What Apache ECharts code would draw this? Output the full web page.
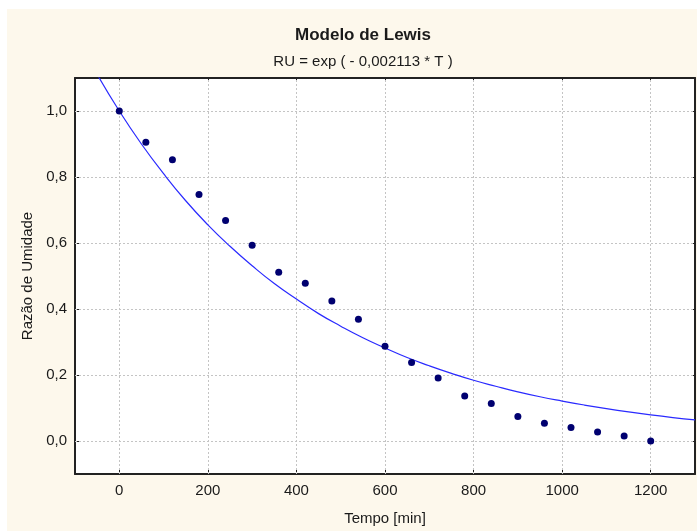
<!DOCTYPE html>
<html>
<head>
<meta charset="utf-8">
<script src="https://cdn.jsdelivr.net/npm/echarts@6/dist/echarts.min.js"></script>
<style>
html,body{margin:0;padding:0;background:#ffffff;}
#chart{position:absolute;left:7px;top:9px;width:690px;height:522px;background:#fdf8ec;}
</style>
</head>
<body>
<div id="chart"></div>
<script>
// Observed points (Tempo [min], Razão de Umidade)
const tempo = [0, 60, 120, 180, 240, 300, 360, 420, 480, 540, 600, 660, 720, 780, 840, 900, 960, 1020, 1080, 1140, 1200];
const razao = [1.0, 0.905, 0.852, 0.747, 0.668, 0.593, 0.511, 0.478, 0.424, 0.369, 0.287, 0.238, 0.191, 0.136, 0.114, 0.074, 0.054, 0.041, 0.027, 0.015, 0.0];
// Model curve
const curveT = [-50, 0, 50, 100, 150, 200, 250, 300, 350, 400, 450, 500, 550, 600, 650, 700, 750, 800, 850, 900, 950, 1000, 1050, 1100, 1150, 1200, 1250, 1300];
const curveRU = [1.111, 1.0, 0.900, 0.810, 0.728, 0.655, 0.590, 0.531, 0.477, 0.430, 0.386, 0.348, 0.313, 0.282, 0.253, 0.228, 0.205, 0.184, 0.166, 0.149, 0.134, 0.121, 0.109, 0.098, 0.088, 0.079, 0.071, 0.064];
const xTicks = [0, 200, 400, 600, 800, 1000, 1200];
const yTicks = [0.0, 0.2, 0.4, 0.6, 0.8, 1.0];

const font = 'Liberation Sans, Arial, sans-serif';
const txt = '#1a1a1a';
const chart = echarts.init(document.getElementById('chart'));
const axisLine = {show: true, onZero: false, lineStyle: {color: '#222', width: 2}};
const tickX = {show: true, inside: true, length: 4, customValues: xTicks, lineStyle: {color: '#222', width: 1}};
const tickY = {show: true, inside: true, length: 4, customValues: yTicks, lineStyle: {color: '#222', width: 1}};
const gridStyle = {color: '#c4c4c4', type: [2, 2], width: 1};

chart.setOption({
  animation: false,
  title: [
    {text: 'Modelo de Lewis', left: 351, top: 13, textAlign: 'center',
     textStyle: {fontFamily: font, fontSize: 17, fontWeight: 'bold', color: txt}},
    {text: 'RU = exp ( - 0,002113 * T )', left: 351, top: 40, textAlign: 'center',
     textStyle: {fontFamily: font, fontSize: 15, fontWeight: 'normal', color: txt}}
  ],
  grid: {left: 68, top: 69, width: 620, height: 396, show: true, backgroundColor: '#ffffff', borderWidth: 0},
  xAxis: [
    {type: 'value', min: -100, max: 1300, interval: 100,
     name: 'Tempo [min]', nameLocation: 'middle', nameGap: 37,
     nameTextStyle: {fontFamily: font, fontSize: 15, color: txt},
     axisLine: axisLine, axisTick: tickX, splitLine: {show: false},
     axisLabel: {fontFamily: font, fontSize: 15, color: txt, margin: 9, customValues: xTicks,
                 formatter: v => String(v)}},
    {type: 'value', position: 'top', min: -100, max: 1300, interval: 100,
     axisLine: axisLine, axisTick: tickX, splitLine: {show: false}, axisLabel: {show: false}}
  ],
  yAxis: [
    {type: 'value', min: -0.1, max: 1.1, interval: 0.1,
     name: 'Razão de Umidade', nameLocation: 'middle', nameGap: 38,
     nameTextStyle: {fontFamily: font, fontSize: 15, color: txt},
     axisLine: axisLine, axisTick: tickY, splitLine: {show: false},
     axisLabel: {fontFamily: font, fontSize: 15, color: txt, margin: 8, customValues: yTicks,
                 formatter: v => v.toFixed(1).replace('.', ',')}},
    {type: 'value', position: 'right', min: -0.1, max: 1.1, interval: 0.1,
     axisLine: axisLine, axisTick: tickY, splitLine: {show: false}, axisLabel: {show: false}}
  ],
  series: [
    {type: 'line', data: curveT.map((t, i) => [t, curveRU[i]]), smooth: true, showSymbol: false,
     clip: true, lineStyle: {color: '#2a2aff', width: 1.2}, z: 3,
     markLine: {silent: true, symbol: 'none', label: {show: false}, lineStyle: gridStyle, z: 1,
       data: xTicks.map(v => ({xAxis: v})).concat(yTicks.map(v => ({yAxis: v})))}},
    {type: 'scatter', data: tempo.map((t, i) => [t, razao[i]]), symbol: 'circle', symbolSize: 7,
     itemStyle: {color: '#000070', opacity: 1}, z: 4}
  ]
});
</script>
</body>
</html>
